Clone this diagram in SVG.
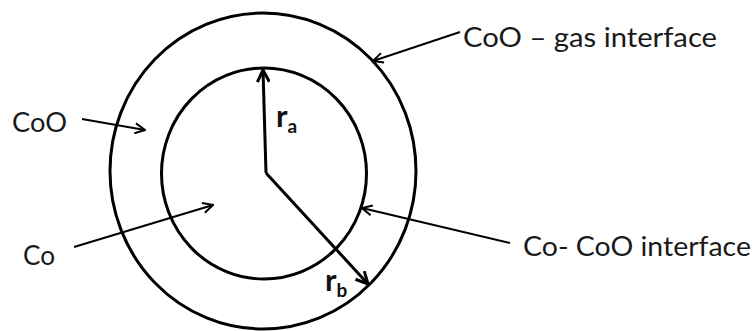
<svg xmlns="http://www.w3.org/2000/svg" width="755" height="331" viewBox="0 0 755 331">
<style>
.ring{fill:none;stroke:#000;stroke-width:3}
.rad{fill:none;stroke:#000;stroke-width:3}
.lead{fill:none;stroke:#000;stroke-width:2}
.lbl{font-family:Lato,"Open Sans","Liberation Sans",sans-serif;font-size:27px;fill:#1a1a1a}
.sym{font-family:Lato,"Open Sans","Liberation Sans",sans-serif;font-size:31px;font-weight:bold;fill:#111}
.sub{font-family:Lato,"Open Sans","Liberation Sans",sans-serif;font-size:19px;font-weight:bold;fill:#111}
</style>
<defs>
<marker id="ah" viewBox="0 0 12 12" refX="11" refY="6" markerWidth="12" markerHeight="12" markerUnits="userSpaceOnUse" orient="auto">
<path d="M1,1 L11,6 L1,11" fill="none" stroke="#000" stroke-width="2"/>
</marker>
<marker id="ahb" viewBox="0 0 14 14" refX="13" refY="7" markerWidth="14" markerHeight="14" markerUnits="userSpaceOnUse" orient="auto">
<path d="M1,1 L13,7 L1,13" fill="none" stroke="#000" stroke-width="3"/>
</marker>
</defs>
<g id="outer-circle"><ellipse class="ring" cx="263" cy="171" rx="153" ry="158"/></g>
<g id="inner-circle"><ellipse class="ring" cx="264" cy="173.5" rx="102.5" ry="105.5"/></g>
<g id="radius-a">
<line class="rad" x1="266" y1="173" x2="263" y2="70" marker-end="url(#ahb)"/>
<text class="sym" x="276" y="127">r<tspan class="sub" dy="6">a</tspan></text>
</g>
<g id="radius-b">
<line class="rad" x1="266" y1="173" x2="368" y2="284" marker-end="url(#ahb)"/>
<text class="sym" x="325" y="291">r<tspan class="sub" dy="6">b</tspan></text>
</g>
<g id="label-coo-gas"><text class="lbl" x="463" y="47" textLength="254" lengthAdjust="spacingAndGlyphs">CoO – gas interface</text></g>
<g id="label-coo"><text class="lbl" x="12" y="132" textLength="55" lengthAdjust="spacingAndGlyphs">CoO</text></g>
<g id="label-co"><text class="lbl" x="23" y="265" textLength="32" lengthAdjust="spacingAndGlyphs">Co</text></g>
<g id="label-co-coo"><text class="lbl" x="523" y="256" textLength="228" lengthAdjust="spacingAndGlyphs">Co- CoO interface</text></g>
<g id="connectors">
<line class="lead" x1="460" y1="32" x2="373" y2="61" marker-end="url(#ah)"/>
<line class="lead" x1="82" y1="119" x2="145" y2="130" marker-end="url(#ah)"/>
<line class="lead" x1="74" y1="247" x2="213" y2="205" marker-end="url(#ah)"/>
<line class="lead" x1="510" y1="243" x2="362" y2="208" marker-end="url(#ah)"/>
</g>
</svg>
